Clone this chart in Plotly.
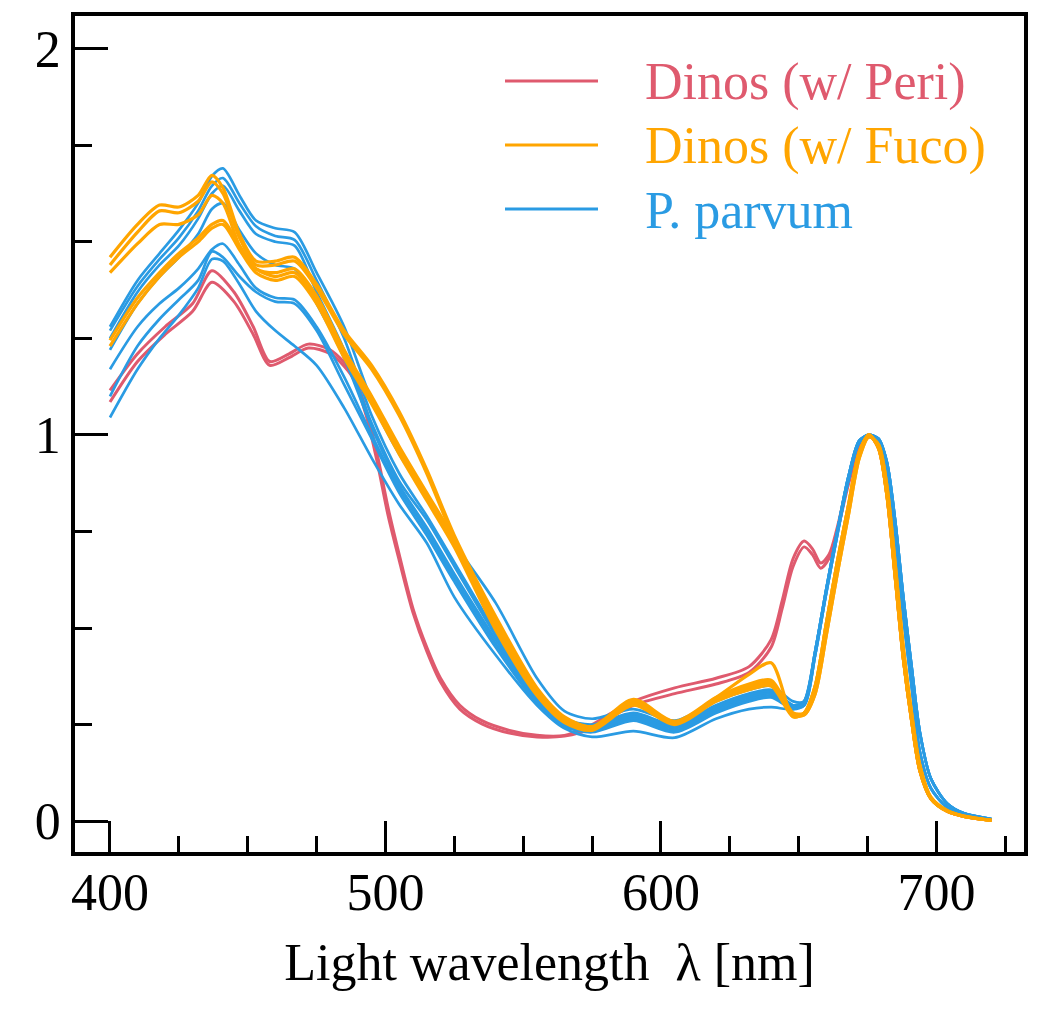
import plotly.graph_objects as go

# ---------------- data ----------------
# Dinos (w/ Peri) : red
wl_peri = [400, 410, 420, 430, 437, 445, 452, 458, 465, 472, 480, 488, 493, 497, 501,
           505, 510, 515, 520, 527, 535, 545, 555, 565, 575, 582, 590, 605, 620, 632,
           640, 644, 648, 652, 655, 658, 661, 664, 668, 672, 675.5, 679, 682, 685, 688,
           691, 694, 698, 704, 710, 720]
peri_1 = [1.115, 1.21, 1.28, 1.34, 1.425, 1.37, 1.28, 1.19, 1.21, 1.235, 1.22, 1.16, 1.065, 0.95, 0.81,
          0.69, 0.55, 0.45, 0.37, 0.30, 0.26, 0.235, 0.222, 0.222, 0.25, 0.28, 0.31, 0.345, 0.37, 0.40,
          0.47, 0.57, 0.68, 0.725, 0.705, 0.668, 0.69, 0.76, 0.88, 0.97, 1.0, 0.965, 0.845, 0.635, 0.42,
          0.26, 0.13, 0.058, 0.025, 0.012, 0.002]
peri_2 = [1.085, 1.19, 1.26, 1.32, 1.395, 1.345, 1.26, 1.18, 1.20, 1.225, 1.21, 1.15, 1.05, 0.93, 0.79,
          0.675, 0.54, 0.44, 0.36, 0.29, 0.252, 0.228, 0.218, 0.22, 0.24, 0.27, 0.30, 0.33, 0.355, 0.385,
          0.45, 0.55, 0.66, 0.71, 0.69, 0.655, 0.68, 0.75, 0.87, 0.965, 1.0, 0.965, 0.845, 0.635, 0.42,
          0.26, 0.13, 0.058, 0.025, 0.012, 0.002]

# shared wavelength grids for the other two groups
wl_main = [400, 410, 418, 425, 432, 437, 441, 447, 453, 460, 467, 475, 485, 495, 505, 515, 525,
           540, 555, 565, 575, 590, 605, 620, 632, 640, 648]
wl_peak = [652, 656, 660, 664, 668, 672, 675.5, 679, 682, 685, 688, 691, 694, 698, 704, 710, 720]

# Dinos (w/ Fuco) : orange
fuco_1 = [1.46, 1.545, 1.595, 1.59, 1.62, 1.672, 1.64, 1.52, 1.45, 1.45, 1.46, 1.39, 1.27, 1.18, 1.06,
          0.91, 0.74, 0.53, 0.345, 0.27, 0.245, 0.315, 0.258, 0.32, 0.355, 0.365, 0.28]
fuco_2 = [1.44, 1.525, 1.58, 1.575, 1.605, 1.655, 1.625, 1.51, 1.44, 1.44, 1.45, 1.38, 1.26, 1.17, 1.05,
          0.90, 0.73, 0.52, 0.34, 0.265, 0.24, 0.31, 0.255, 0.315, 0.35, 0.36, 0.275]
fuco_3 = [1.42, 1.495, 1.545, 1.545, 1.57, 1.62, 1.60, 1.49, 1.43, 1.42, 1.43, 1.36, 1.22, 1.10, 0.97,
          0.85, 0.73, 0.51, 0.335, 0.26, 0.24, 0.31, 0.255, 0.32, 0.38, 0.41, 0.27]
fuco_4 = [1.245, 1.355, 1.42, 1.47, 1.51, 1.545, 1.555, 1.49, 1.43, 1.41, 1.42, 1.35, 1.21, 1.09, 0.96,
          0.84, 0.72, 0.50, 0.33, 0.26, 0.238, 0.305, 0.252, 0.315, 0.345, 0.355, 0.275]
fuco_5 = [1.23, 1.34, 1.41, 1.46, 1.50, 1.535, 1.545, 1.48, 1.42, 1.40, 1.41, 1.34, 1.20, 1.08, 0.95,
          0.83, 0.71, 0.495, 0.325, 0.255, 0.235, 0.30, 0.25, 0.31, 0.34, 0.35, 0.27]
fuco_peak_a = [0.28, 0.35, 0.51, 0.67, 0.815, 0.955, 1.0, 0.965, 0.845, 0.635, 0.42, 0.26, 0.13,
               0.058, 0.025, 0.012, 0.002]
fuco_peak_b = [0.275, 0.33, 0.48, 0.64, 0.79, 0.94, 0.995, 0.975, 0.87, 0.67, 0.45, 0.28, 0.145,
               0.062, 0.027, 0.013, 0.002]

# P. parvum : blue
parvum_1 = [1.28, 1.40, 1.47, 1.53, 1.60, 1.67, 1.69, 1.62, 1.555, 1.535, 1.525, 1.42, 1.28, 1.09, 0.95,
            0.84, 0.72, 0.565, 0.37, 0.285, 0.265, 0.29, 0.26, 0.31, 0.34, 0.35, 0.31]
parvum_2 = [1.27, 1.385, 1.455, 1.51, 1.58, 1.645, 1.665, 1.60, 1.54, 1.515, 1.505, 1.40, 1.25, 1.05, 0.90,
            0.79, 0.67, 0.49, 0.33, 0.265, 0.25, 0.28, 0.25, 0.30, 0.33, 0.34, 0.30]
parvum_3 = [1.25, 1.37, 1.44, 1.49, 1.56, 1.625, 1.645, 1.58, 1.52, 1.50, 1.49, 1.37, 1.22, 1.03, 0.88,
            0.78, 0.66, 0.48, 0.32, 0.26, 0.245, 0.275, 0.245, 0.295, 0.325, 0.335, 0.30]
parvum_4 = [1.22, 1.34, 1.41, 1.46, 1.52, 1.585, 1.60, 1.53, 1.47, 1.44, 1.43, 1.34, 1.20, 1.02, 0.87,
            0.76, 0.64, 0.47, 0.315, 0.255, 0.24, 0.27, 0.24, 0.29, 0.32, 0.33, 0.295]
parvum_5 = [1.17, 1.28, 1.34, 1.38, 1.43, 1.48, 1.495, 1.44, 1.38, 1.355, 1.35, 1.28, 1.15, 1.00, 0.86,
            0.75, 0.63, 0.46, 0.31, 0.25, 0.235, 0.265, 0.235, 0.285, 0.315, 0.325, 0.295]
parvum_6 = [1.10, 1.23, 1.30, 1.35, 1.40, 1.475, 1.46, 1.41, 1.37, 1.345, 1.34, 1.27, 1.13, 0.99, 0.85,
            0.74, 0.62, 0.45, 0.305, 0.245, 0.23, 0.26, 0.23, 0.28, 0.31, 0.32, 0.29]
parvum_7 = [1.045, 1.17, 1.25, 1.31, 1.38, 1.455, 1.45, 1.39, 1.32, 1.27, 1.23, 1.18, 1.07, 0.94, 0.82,
            0.72, 0.58, 0.43, 0.30, 0.24, 0.218, 0.233, 0.216, 0.265, 0.29, 0.295, 0.29]
parvum_peak_a = [0.30, 0.43, 0.59, 0.74, 0.88, 0.98, 0.995, 0.985, 0.91, 0.74, 0.53, 0.35, 0.18,
                 0.085, 0.035, 0.017, 0.004]
parvum_peak_b = [0.31, 0.44, 0.60, 0.75, 0.89, 0.985, 1.0, 0.99, 0.93, 0.78, 0.58, 0.40, 0.23,
                 0.11, 0.045, 0.02, 0.005]

legend_names = ["Dinos (w/ Peri)", "Dinos (w/ Fuco)", "P. parvum"]
x_ticks = [400, 500, 600, 700]
y_ticks = [0, 1, 2]

RED = "#DF5A6E"
ORANGE = "#FFA500"
BLUE = "#2A9BE3"
FONT = "Liberation Serif"

fig = go.Figure()

for ys in [peri_1, peri_2]:
    fig.add_trace(go.Scatter(x=wl_peri, y=ys, mode="lines",
                             line=dict(color=RED, width=3, shape="spline", smoothing=0.8),
                             showlegend=False, hoverinfo="skip"))
blue_sets = [(parvum_1, parvum_peak_b), (parvum_2, parvum_peak_a), (parvum_3, parvum_peak_b),
             (parvum_4, parvum_peak_a), (parvum_5, parvum_peak_b), (parvum_6, parvum_peak_a),
             (parvum_7, parvum_peak_b)]
for ys, tail in blue_sets:
    fig.add_trace(go.Scatter(x=wl_main + wl_peak, y=ys + tail, mode="lines",
                             line=dict(color=BLUE, width=2.7, shape="spline", smoothing=0.8),
                             showlegend=False, hoverinfo="skip"))
orange_sets = [(fuco_1, fuco_peak_a), (fuco_2, fuco_peak_b), (fuco_3, fuco_peak_a),
               (fuco_4, fuco_peak_b), (fuco_5, fuco_peak_a)]
for ys, tail in orange_sets:
    fig.add_trace(go.Scatter(x=wl_main + wl_peak, y=ys + tail, mode="lines",
                             line=dict(color=ORANGE, width=3.2, shape="spline", smoothing=0.8),
                             showlegend=False, hoverinfo="skip"))

# ---------------- layout ----------------
L, R, T, B = 75, 25, 16, 159
W, H = 1049, 1011
pw, ph = W - L - R, H - T - B

def px2paper(x, y):
    return (x - L) / pw, (H - B - y) / ph

shapes = []
annotations = []
for i, (name, col) in enumerate(zip(legend_names, [RED, ORANGE, BLUE])):
    yy = 81 + i * 64
    x0, y0 = px2paper(505, yy)
    x1, _ = px2paper(598, yy)
    shapes.append(dict(type="line", xref="paper", yref="paper", x0=x0, x1=x1, y0=y0, y1=y0,
                       line=dict(color=col, width=3)))
    tx, ty = px2paper(643, yy + 1)
    annotations.append(dict(xref="paper", yref="paper", x=tx, y=ty, xanchor="left", yanchor="middle",
                            text=name, showarrow=False,
                            font=dict(family=FONT, size=52, color=col)))

fig.update_layout(
    width=W, height=H,
    margin=dict(l=L, r=R, t=T, b=B),
    paper_bgcolor="white", plot_bgcolor="white",
    shapes=shapes, annotations=annotations,
    font=dict(family=FONT, size=52, color="black"),
    xaxis=dict(range=[387.3, 731.8], tickvals=x_ticks, ticks="inside", ticklen=31, tickwidth=3,
               tickcolor="black", showline=True, linewidth=3.5, linecolor="black", mirror=True,
               showgrid=False, zeroline=False, ticklabelstandoff=-8,
               minor=dict(dtick=25, tick0=400, ticks="inside", ticklen=16, tickwidth=3, tickcolor="black"),
               tickfont=dict(family=FONT, size=52, color="black"),
               title=dict(text="Light wavelength\u00a0\u00a0λ [nm]", standoff=24,
                          font=dict(family=FONT, size=52, color="black"))),
    yaxis=dict(range=[-0.08, 2.0846], tickvals=y_ticks, ticks="inside", ticklen=33, tickwidth=3,
               tickcolor="black", showline=True, linewidth=3.5, linecolor="black", mirror=True,
               showgrid=False, zeroline=False,
               minor=dict(dtick=0.25, tick0=0, ticks="inside", ticklen=17, tickwidth=3, tickcolor="black"),
               tickfont=dict(family=FONT, size=52, color="black")),
)

fig.write_html("out.html")
